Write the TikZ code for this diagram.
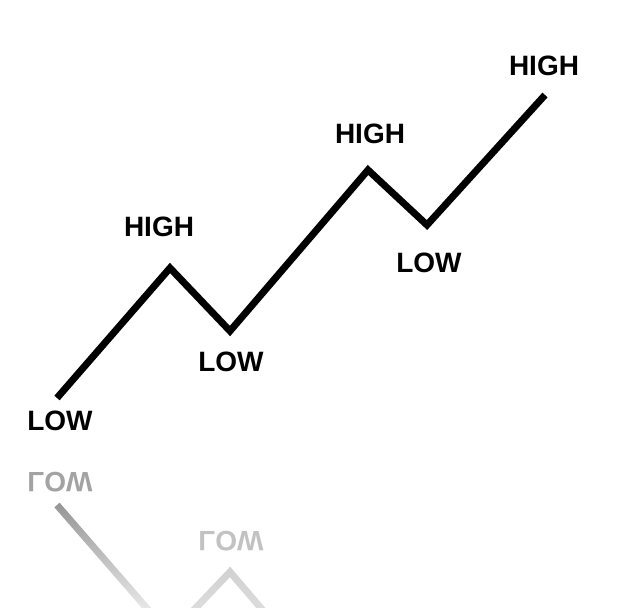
\documentclass[tikz,border=0pt]{standalone}
\usepackage{fontspec}
\setmainfont{Liberation Sans}
\usetikzlibrary{fadings}

\begin{document}
\begin{tikzpicture}[
  x=1pt, y=-1pt,
  font=\fontsize{28}{30}\selectfont\bfseries,
  lbl/.style={inner sep=0pt, anchor=center},
  trend/.style={line width=7pt, line join=miter, line cap=butt},
  mirror/.style={shift={(0,903)}, yscale=-1, transform shape},
]
  \useasboundingbox (0,0) rectangle (638,608);
  \clip (0,0) rectangle (638,608);

  % turning points of the trend
  \coordinate (p0) at (57,398);
  \coordinate (p1) at (170,268);
  \coordinate (p2) at (230,331);
  \coordinate (p3) at (368,170);
  \coordinate (p4) at (427,225);
  \coordinate (p5) at (545,95);

  \node[lbl] (low1)  at (60,421)  {LOW};
  \node[lbl] (high1) at (159,227) {HIGH};
  \node[lbl] (low2)  at (231,362) {LOW};
  \node[lbl] (high2) at (370,134) {HIGH};
  \node[lbl] (low3)  at (429,263) {LOW};
  \node[lbl] (high3) at (544,66)  {HIGH};

  \draw[trend] (p0) -- (p1) -- (p2) -- (p3) -- (p4) -- (p5);

  % reflection
  \begin{scope}[mirror]
    \coordinate (r0) at (57,398);
    \coordinate (r1) at (170,268);
    \coordinate (r2) at (230,331);
    \coordinate (r3) at (368,170);
    \node[lbl, text=black!36] (rlow1) at (60,421)  {LOW};
    \node[lbl, text=black!24] (rlow2) at (231,362) {LOW};
    \draw[trend, draw=black!42, path fading=south] (r0) -- (r1);
    \draw[trend, draw=black!18, path fading=south] (r1) -- (r2) -- (r3);
  \end{scope}
\end{tikzpicture}
\end{document}
